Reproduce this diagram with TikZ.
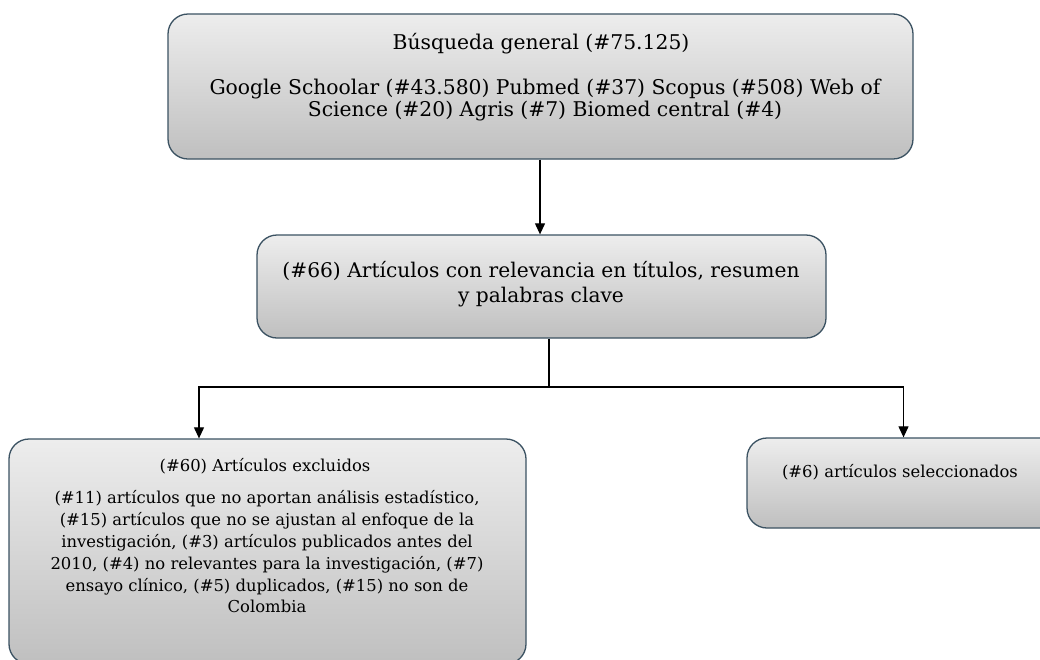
\documentclass[tikz,border=0pt]{standalone}
\usepackage{fontspec}
\setmainfont{DejaVu Serif}
\usetikzlibrary{arrows.meta}
\definecolor{edge}{HTML}{3B5262}
\tikzset{
  box/.style={draw=edge, line width=1.3pt, rounded corners=20pt, top color=black!7, bottom color=black!25, inner sep=0pt},
  conn/.style={draw=black, line width=1.1pt},
  arr/.style={conn, -{Triangle[width=10pt,length=11pt]}},
  big/.style={font=\fontsize{20.3}{22.5}\selectfont, align=center, inner sep=0pt},
  mid/.style={font=\fontsize{20.2}{25}\selectfont, align=center, inner sep=0pt},
  small/.style={font=\fontsize{16.4}{21.8}\selectfont, align=center, inner sep=0pt}
}
\begin{document}
\begin{tikzpicture}[x=1pt,y=-1pt]
\useasboundingbox (0,0) rectangle (1040,659);
\begin{scope}
\clip (0,0) rectangle (1040,659);
\node[box, minimum width=745pt, minimum height=145pt] (top) at (540.5,86.5) {};
\node[box, minimum width=569pt, minimum height=103pt] (midb) at (541.5,286.5) {};
\node[box, minimum width=517pt, minimum height=225pt] (left) at (267.5,551.5) {};
\node[box, minimum width=313pt, minimum height=90pt] (right) at (903.5,483) {};
\end{scope}
\node[big] (t1) at (541,44) {Búsqueda general (\#75.125)};
\node[big] (t2) at (545,100) {Google Schoolar (\#43.580) Pubmed (\#37) Scopus (\#508) Web of\\Science (\#20) Agris (\#7) Biomed central (\#4)};
\node[mid] (m1) at (541,284) {(\#66) Artículos con relevancia en títulos, resumen\\y palabras clave};
\node[small] (l1) at (265,466) {(\#60) Artículos excluidos};
\node[small] (l2) at (267,552) {(\#11) artículos que no aportan análisis estadístico,\\(\#15) artículos que no se ajustan al enfoque de la\\investigación, (\#3) artículos publicados antes del\\2010, (\#4) no relevantes para la investigación, (\#7)\\ensayo clínico, (\#5) duplicados, (\#15) no son de\\Colombia};
\node[small] (r1) at (900,472) {(\#6) artículos seleccionados};
\coordinate (j) at (549,387);
\draw[arr] (top.south -| 540,0) -- (midb.north -| 540,0);
\draw[conn] (midb.south -| j) -- (j);
\draw[arr] (j) -| ([xshift=-68.5pt]left.north);
\draw[arr] (j) -| (right.north);
\end{tikzpicture}
\end{document}
